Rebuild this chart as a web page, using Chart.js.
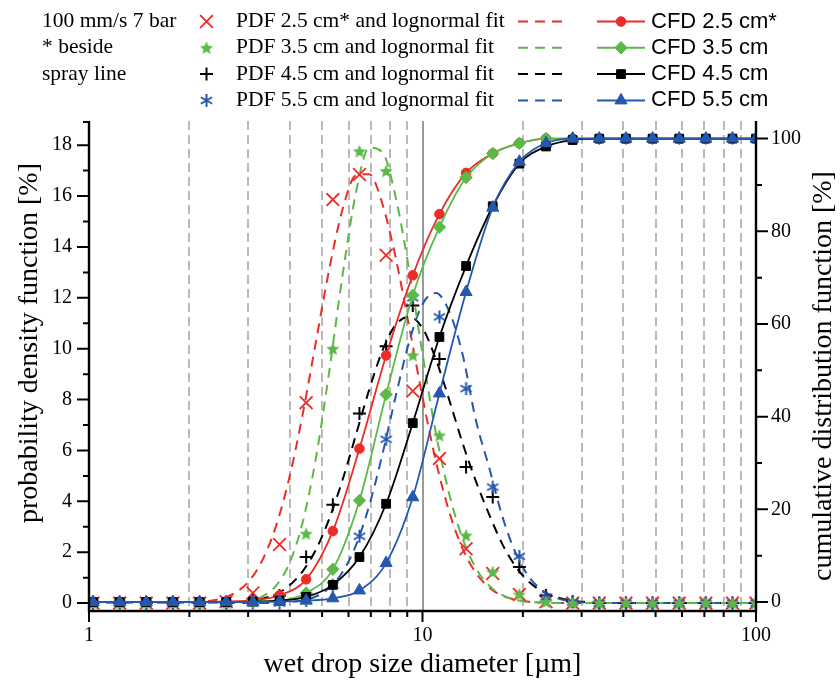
<!DOCTYPE html>
<html>
<head>
<meta charset="utf-8">
<title>Wet drop size distribution</title>
<script src="https://cdn.jsdelivr.net/npm/chart.js@4.4.1/dist/chart.umd.min.js"></script>
<style>
html,body{margin:0;padding:0;background:#ffffff;}
#wrap{position:relative;width:840px;height:682px;overflow:hidden;background:#fff;}
canvas{display:block;}
</style>
</head>
<body>
<div id="wrap"><canvas id="chart" width="840" height="682"></canvas></div>
<script>
// ---------------- data ----------------
// drop size bins [µm]
const binSizes = [1.028,1.236,1.485,1.785,2.146,2.579,3.100,3.727,4.479,5.384,6.471,7.778,9.350,11.24,13.51,16.24,19.52,23.46,28.20,33.89,40.74,48.96,58.85,70.74,85.03,100];
// probability density function [%] (markers)
const pdf25 = [0,0,0,0,0,0.05,0.4,2.30,7.88,15.86,16.85,13.67,8.34,5.68,2.14,1.16,0.34,0.05,0,0,0,0,0,0,0,0];
const pdf35 = [0,0,0,0,0,0,0.1,0.3,2.73,10.0,17.76,16.98,9.74,6.59,2.66,1.22,0.34,0.05,0,0,0,0,0,0,0,0];
const pdf45 = [0,0,0,0,0,0,0.1,0.3,1.81,3.87,7.45,10.1,11.7,9.6,5.35,4.17,1.42,0.30,0.05,0,0,0,0,0,0,0];
const pdf55 = [0,0,0,0,0,0,0,0,0.1,0.70,2.63,6.44,12.0,11.25,8.43,4.56,1.84,0.24,0.05,0,0,0,0,0,0,0];
// cumulative distribution function [%]
const cfd25 = [0,0,0,0,0,0.1,0.4,1.45,4.9,15.3,33.1,53.2,70.5,83.7,92.6,96.8,99.0,100,100,100,100,100,100,100,100,100];
const cfd35 = [0,0,0,0,0,0,0.1,0.3,1.94,7.06,21.9,44.8,66.2,80.9,91.6,96.8,99.0,100,100,100,100,100,100,100,100,100];
const cfd45 = [0,0,0,0,0,0,0.1,0.3,1.1,3.7,9.7,21.2,38.6,57.2,72.5,85.4,94.6,98.3,99.7,100,100,100,100,100,100,100];
const cfd55 = [0,0,0,0,0,0,0,0.1,0.3,0.8,2.5,8.4,22.6,45.0,66.9,85.1,95.0,99.0,100,100,100,100,100,100,100,100];
// lognormal fit curves
const fitSizes = [1,2.089,2.291,2.512,2.754,3.020,3.311,3.631,3.981,4.365,4.786,5.248,5.754,6.310,6.918,7.586,8.318,9.120,10.0,10.96,12.02,13.18,14.45,15.85,17.38,19.05,20.89,22.91,25.12,27.54,30.20,33.11,36.31,100];
const fit25 = [0,0.03,0.08,0.19,0.42,0.87,1.69,3.00,4.89,7.37,10.24,13.10,15.46,16.81,16.86,15.68,13.55,10.87,8.10,5.60,3.60,2.15,1.19,0.61,0.29,0.13,0.05,0.02,0,0,0,0,0,0];
const fit35 = [0,0,0,0.01,0.03,0.09,0.26,0.67,1.54,3.14,5.67,9.07,12.86,16.10,17.90,17.72,15.93,13.1,9.8,6.7,4.3,2.55,1.38,0.68,0.31,0.13,0.05,0.02,0,0,0,0,0,0];
const fit45 = [0,0,0,0.01,0.03,0.07,0.17,0.35,0.68,1.24,2.09,3.30,4.83,6.60,8.38,9.93,10.95,11.25,10.81,9.6,8.0,6.3,4.8,3.48,2.30,1.43,0.83,0.46,0.24,0.11,0.05,0.02,0,0];
const fit55 = [0,0,0,0,0,0,0,0.01,0.04,0.10,0.26,0.59,1.21,2.26,3.82,5.86,8.15,10.27,11.75,12.19,11.47,9.79,7.2,5.32,3.38,1.95,1.02,0.49,0.21,0.08,0.03,0.01,0,0];
// axes
const xTickLabels = [1, 10, 100];
const xMinorTicks = [2,3,4,5,6,7,8,9,20,30,40,50,60,70,80,90];
const leftMajorTicks = [0,2,4,6,8,10,12,14,16,18];
const leftMinorTicks = [1,3,5,7,9,11,13,15,17,19];
const rightMajorTicks = [0,20,40,60,80,100];
const rightMinorTicks = [10,30,50,70,90];
const pdfNames = ['PDF 2.5 cm* and lognormal fit','PDF 3.5 cm and lognormal fit','PDF 4.5 cm and lognormal fit','PDF 5.5 cm and lognormal fit'];
const cfdNames = ['CFD 2.5 cm*','CFD 3.5 cm','CFD 4.5 cm','CFD 5.5 cm'];
const noteLines = ['100 mm/s 7 bar','* beside','spray line'];

// ---------------- styles ----------------
const SERIF = '"Liberation Serif","Times New Roman",serif';
const SANS = '"Liberation Sans",Arial,sans-serif';
const RED = '#ea2d28', GREEN = '#5cb948', BLACK = '#000000', BLUE = '#2557ad';
const GRID = '#bababa', GRID10 = '#9a9a9a';
const DASH = [10, 7];

function makeStar(color, r) {
  const s = Math.ceil(r * 2 + 4);
  const c = document.createElement('canvas'); c.width = s; c.height = s;
  const g = c.getContext('2d'); g.fillStyle = color; g.beginPath();
  for (let i = 0; i < 10; i++) {
    const rr = (i % 2) ? r * 0.45 : r;
    const a = -Math.PI / 2 + i * Math.PI / 5;
    g.lineTo(s / 2 + rr * Math.cos(a), s / 2 + 0.6 + rr * Math.sin(a));
  }
  g.closePath(); g.fill();
  return c;
}
function makeAsterisk(color, r, lw) {
  const s = Math.ceil(r * 2 + 4);
  const c = document.createElement('canvas'); c.width = s; c.height = s;
  const g = c.getContext('2d'); g.strokeStyle = color; g.lineWidth = lw; g.lineCap = 'butt';
  g.beginPath();
  [90, 30, 150].forEach(d => {
    const a = d * Math.PI / 180;
    g.moveTo(s / 2 - r * Math.cos(a), s / 2 - r * Math.sin(a));
    g.lineTo(s / 2 + r * Math.cos(a), s / 2 + r * Math.sin(a));
  });
  g.stroke();
  return c;
}
const starImg = makeStar(GREEN, 7);
const astImg = makeAsterisk(BLUE, 6.5, 2);

const pdfStyle = [
  {style: 'crossRot', r: 9, color: RED, lw: 1.8},
  {style: starImg, r: 7, color: GREEN, lw: 1},
  {style: 'cross', r: 6.5, color: BLACK, lw: 2},
  {style: astImg, r: 6.5, color: BLUE, lw: 2}
];
const cfdStyle = [
  {style: 'circle', r: 4.8, color: RED},
  {style: 'rectRot', r: 6.2, color: GREEN},
  {style: 'rect', r: 6.2, color: BLACK},
  {style: 'triangle', r: 7, color: BLUE}
];

function pts(xs, ys) { return xs.map((x, i) => ({x: x, y: ys[i]})); }

const pdfData = [pdf25, pdf35, pdf45, pdf55];
const cfdData = [cfd25, cfd35, cfd45, cfd55];
const fitData = [fit25, fit35, fit45, fit55];

function cfdSet(i) {
  const st = cfdStyle[i];
  return {label: cfdNames[i], data: pts(binSizes, cfdData[i]), yAxisID: 'y2', showLine: true,
    borderColor: st.color, backgroundColor: st.color, borderWidth: 1.8,
    pointStyle: st.style, pointRadius: st.r, pointBorderWidth: 1, pointBorderColor: st.color,
    pointBackgroundColor: st.color, cubicInterpolationMode: 'monotone'};
}
function pdfSet(i) {
  const st = pdfStyle[i];
  return {label: pdfNames[i], data: pts(binSizes, pdfData[i]), yAxisID: 'y', showLine: false,
    pointStyle: st.style, pointRadius: st.r, pointBorderWidth: st.lw, pointBorderColor: st.color,
    pointBackgroundColor: st.color, borderColor: st.color, backgroundColor: st.color};
}
function fitSet(i) {
  const st = pdfStyle[i];
  return {label: pdfNames[i] + ' (fit)', data: pts(fitSizes, fitData[i]), yAxisID: 'y', showLine: true,
    borderColor: st.color, borderWidth: 2, borderDash: DASH, pointRadius: 0,
    cubicInterpolationMode: 'monotone'};
}

// index 0 is drawn on top
const datasets = [cfdSet(3), cfdSet(2), cfdSet(1), cfdSet(0),
  pdfSet(1), pdfSet(3), pdfSet(2), pdfSet(0),
  fitSet(1), fitSet(3), fitSet(2), fitSet(0)];

function drawMarker(ctx, st, x, y) {
  ctx.save();
  ctx.fillStyle = st.color; ctx.strokeStyle = st.color; ctx.lineWidth = st.lw || 1;
  const s = st.style, r = st.r;
  if (s instanceof HTMLCanvasElement) { ctx.drawImage(s, x - s.width / 2, y - s.height / 2); ctx.restore(); return; }
  ctx.beginPath();
  if (s === 'circle') { ctx.arc(x, y, r, 0, Math.PI * 2); ctx.fill(); ctx.stroke(); }
  else if (s === 'rectRot') { ctx.moveTo(x, y - r); ctx.lineTo(x + r, y); ctx.lineTo(x, y + r); ctx.lineTo(x - r, y); ctx.closePath(); ctx.fill(); ctx.stroke(); }
  else if (s === 'rect') { const h = r * Math.SQRT1_2; ctx.rect(x - h, y - h, 2 * h, 2 * h); ctx.fill(); ctx.stroke(); }
  else if (s === 'triangle') { const w = r * Math.sin(2 * Math.PI / 3); ctx.moveTo(x, y - r); ctx.lineTo(x + w, y + r / 2); ctx.lineTo(x - w, y + r / 2); ctx.closePath(); ctx.fill(); ctx.stroke(); }
  else if (s === 'crossRot') { const o = r * Math.SQRT1_2; ctx.moveTo(x - o, y - o); ctx.lineTo(x + o, y + o); ctx.moveTo(x - o, y + o); ctx.lineTo(x + o, y - o); ctx.stroke(); }
  else if (s === 'cross') { ctx.moveTo(x, y - r); ctx.lineTo(x, y + r); ctx.moveTo(x - r, y); ctx.lineTo(x + r, y); ctx.stroke(); }
  ctx.restore();
}

const frame = {
  id: 'frame',
  beforeDatasetsDraw(chart) {
    const {ctx, chartArea: a, scales} = chart;
    const sx = scales.x;
    ctx.save();
    ctx.lineWidth = 2;
    ctx.strokeStyle = GRID;
    ctx.setLineDash([9, 5]);
    xMinorTicks.forEach(v => {
      const px = Math.round(sx.getPixelForValue(v));
      ctx.beginPath(); ctx.moveTo(px, a.top); ctx.lineTo(px, a.bottom); ctx.stroke();
    });
    ctx.setLineDash([]);
    ctx.strokeStyle = GRID10;
    const p10 = Math.round(sx.getPixelForValue(10));
    ctx.beginPath(); ctx.moveTo(p10, a.top); ctx.lineTo(p10, a.bottom); ctx.stroke();
    ctx.restore();
  },
  afterDatasetsDraw(chart) {
    const {ctx, chartArea: a, scales} = chart;
    const sx = scales.x, sy = scales.y, sy2 = scales.y2;
    ctx.save();
    ctx.strokeStyle = '#000'; ctx.lineWidth = 2.4; ctx.lineCap = 'butt';
    ctx.beginPath();
    ctx.moveTo(a.left, a.top); ctx.lineTo(a.left, a.bottom + 1.2);
    ctx.moveTo(a.right, a.top); ctx.lineTo(a.right, a.bottom + 1.2);
    ctx.moveTo(a.left - 1.2, a.bottom); ctx.lineTo(a.right + 1.2, a.bottom);
    ctx.stroke();
    ctx.lineWidth = 2;
    ctx.beginPath();
    leftMajorTicks.forEach(v => { const py = sy.getPixelForValue(v); ctx.moveTo(a.left - 12, py); ctx.lineTo(a.left, py); });
    leftMinorTicks.forEach(v => { if (v <= sy.max + 0.1) { const py = Math.max(sy.getPixelForValue(v), a.top + 1); ctx.moveTo(a.left - 6, py); ctx.lineTo(a.left, py); } });
    rightMajorTicks.forEach(v => { const py = sy2.getPixelForValue(v); ctx.moveTo(a.right, py); ctx.lineTo(a.right + 12, py); });
    rightMinorTicks.forEach(v => { const py = sy2.getPixelForValue(v); ctx.moveTo(a.right, py); ctx.lineTo(a.right + 6, py); });
    xTickLabels.forEach(v => { const px = sx.getPixelForValue(v); ctx.moveTo(px, a.bottom); ctx.lineTo(px, a.bottom + 11); });
    xMinorTicks.forEach(v => { const px = sx.getPixelForValue(v); ctx.moveTo(px, a.bottom); ctx.lineTo(px, a.bottom + 6); });
    ctx.stroke();
    ctx.restore();
  },
  afterDraw(chart) {
    const {ctx, chartArea: a} = chart;
    ctx.save();
    ctx.fillStyle = '#000';
    // axis titles
    ctx.font = '28px ' + SERIF;
    ctx.textAlign = 'center'; ctx.textBaseline = 'middle';
    ctx.fillText('wet drop size diameter [\u00b5m]', (a.left + a.right) / 2, 665);
    ctx.textBaseline = 'alphabetic';
    ctx.save(); ctx.translate(37, 343); ctx.rotate(-Math.PI / 2);
    ctx.fillText('probability density function [%]', 0, 0); ctx.restore();
    ctx.save(); ctx.translate(831, 376); ctx.rotate(-Math.PI / 2);
    ctx.fillText('cumulative distribution function [%]', 0, 0); ctx.restore();
    // legend
    const rows = [21.5, 47.8, 74.1, 100.4];
    ctx.textAlign = 'left'; ctx.textBaseline = 'middle';
    ctx.font = '21.5px ' + SERIF;
    noteLines.forEach((t, i) => ctx.fillText(t, 42, rows[i]));
    for (let i = 0; i < 4; i++) {
      const y = rows[i];
      drawMarker(ctx, pdfStyle[i], 206.5, y);
      ctx.fillStyle = '#000'; ctx.font = '21.5px ' + SERIF;
      ctx.fillText(pdfNames[i], 236, y);
      ctx.save(); ctx.strokeStyle = pdfStyle[i].color; ctx.lineWidth = 2; ctx.setLineDash(DASH);
      ctx.beginPath(); ctx.moveTo(518, y); ctx.lineTo(562, y); ctx.stroke(); ctx.restore();
      ctx.save(); ctx.strokeStyle = cfdStyle[i].color; ctx.lineWidth = 2;
      ctx.beginPath(); ctx.moveTo(597, y); ctx.lineTo(645, y); ctx.stroke(); ctx.restore();
      drawMarker(ctx, cfdStyle[i], 621, y);
      ctx.fillStyle = '#000'; ctx.font = '22px ' + SANS;
      ctx.fillText(cfdNames[i], 651, y);
    }
    ctx.restore();
  }
};

Chart.defaults.font.family = SERIF;
Chart.defaults.color = '#000';

new Chart(document.getElementById('chart'), {
  type: 'scatter',
  data: {datasets: datasets},
  options: {
    responsive: false, animation: false, devicePixelRatio: 1,
    layout: {padding: {top: 121, left: 0, right: 0, bottom: 0}},
    plugins: {legend: {display: false}, tooltip: {enabled: false}},
    scales: {
      x: {type: 'logarithmic', position: 'bottom', min: 1, max: 100,
        grid: {display: false, drawTicks: false}, border: {display: false},
        ticks: {autoSkip: false, maxRotation: 0, padding: 13, font: {family: SERIF, size: 20}, color: '#000',
          callback: (v) => xTickLabels.includes(v) ? String(v) : ''},
        afterFit: (s) => { s.height = 71; }},
      y: {type: 'linear', position: 'left', min: -0.31, max: 18.95,
        grid: {display: false, drawTicks: false}, border: {display: false},
        ticks: {stepSize: 2, includeBounds: false, padding: 17, font: {family: SERIF, size: 20}, color: '#000'},
        afterFit: (s) => { s.width = 89; }},
      y2: {type: 'linear', position: 'right', min: -1.94, max: 103.8,
        grid: {display: false, drawTicks: false}, border: {display: false},
        ticks: {stepSize: 20, includeBounds: false, padding: 15, font: {family: SERIF, size: 20}, color: '#000'},
        afterFit: (s) => { s.width = 84; }}
    }
  },
  plugins: [frame]
});
</script>
</body>
</html>
